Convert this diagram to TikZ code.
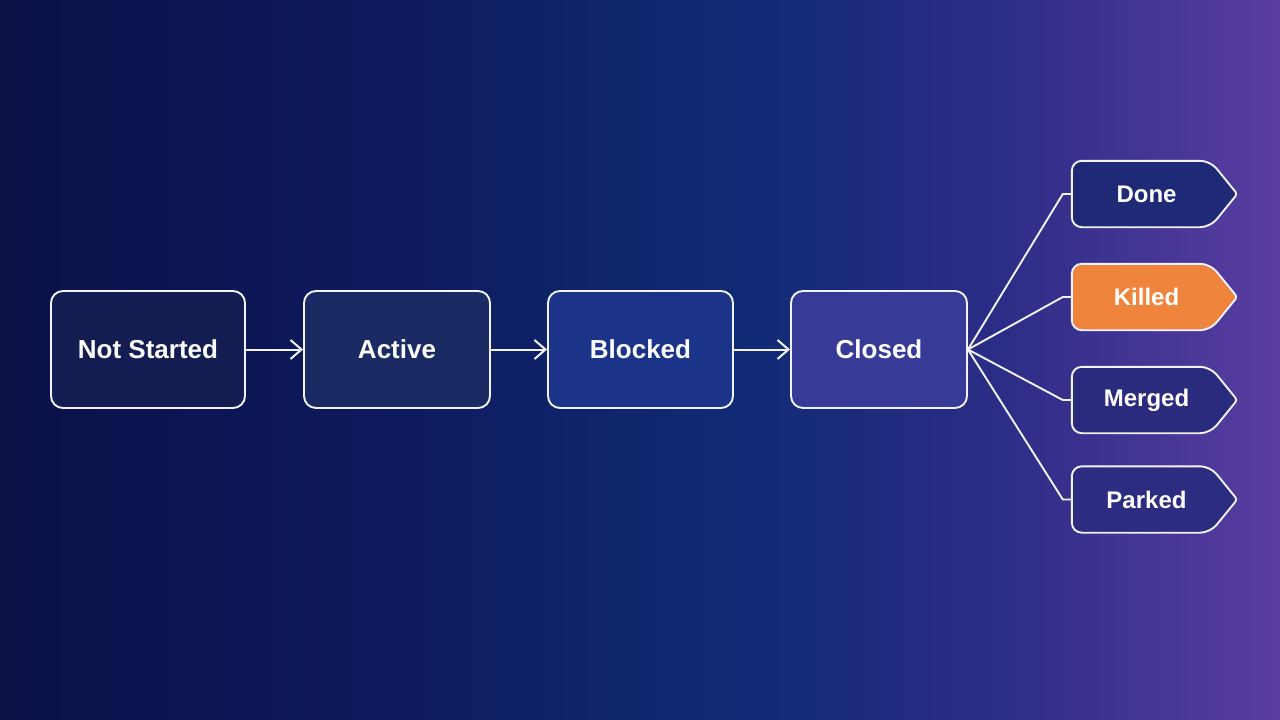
\documentclass[tikz,border=0pt]{standalone}
\usepackage{fontspec}
\setmainfont{Liberation Sans}
\usetikzlibrary{arrows.meta,backgrounds,calc}
\definecolor{bgA}{HTML}{0B1047}
\definecolor{bgB}{HTML}{0E1A5C}
\definecolor{bgC}{HTML}{0F2A74}
\definecolor{bgD}{HTML}{2C2D86}
\definecolor{bgE}{HTML}{5A3DA2}
\definecolor{fNot}{HTML}{131D52}
\definecolor{fAct}{HTML}{1A2A63}
\definecolor{fBlk}{HTML}{1B3388}
\definecolor{fClo}{HTML}{383A98}
\definecolor{fDone}{HTML}{1E2A76}
\definecolor{fKill}{HTML}{EF843C}
\definecolor{fMrg}{HTML}{2B2B7E}
\definecolor{fPrk}{HTML}{2C2C80}
\definecolor{edge}{HTML}{F2F2FA}
\pgfdeclarehorizontalshading{bgshade}{100bp}{color(0bp)=(bgA); color(25bp)=(bgA); color(39.45bp)=(bgB); color(53.7bp)=(bgC); color(64.06bp)=(bgD); color(75bp)=(bgE); color(100bp)=(bgE)}
\tikzset{
  statebox/.style={draw=edge, line width=1.9pt, rounded corners=12pt, minimum height=117pt,
    text=white, font=\bfseries\fontsize{26}{30}\selectfont, inner sep=0pt},
  taglabel/.style={minimum height=66pt, minimum width=149pt, inner sep=0pt,
    text=white, font=\bfseries\fontsize{24}{28}\selectfont},
  tagshape/.style={draw=edge, line width=1.9pt, rounded corners=10pt},
  flow/.style={draw=edge, line width=2pt, -{Straight Barb[length=11pt,width=19pt]}},
  branch/.style={draw=edge, line width=1.9pt}
}
\begin{document}
\begin{tikzpicture}[x=1pt,y=-1pt]
\begin{pgfonlayer}{background}
\shade[shading=bgshade] (0,0) rectangle (1280,720);
\end{pgfonlayer}
\useasboundingbox (0,0) rectangle (1280,720);

\node[statebox, fill=fNot, minimum width=194pt] (ns) at (148,349.5) {Not Started};
\node[statebox, fill=fAct, minimum width=186pt] (act) at (397,349.5) {Active};
\node[statebox, fill=fBlk, minimum width=185pt] (blk) at (640.5,349.5) {Blocked};
\node[statebox, fill=fClo, minimum width=176pt] (clo) at (879,349.5) {Closed};

\node[taglabel] (done) at (1146.5,194) {Done};
\node[taglabel] (kill) at (1146.5,297) {Killed};
\node[taglabel] (mrg) at (1146.5,400) {Merged};
\node[taglabel] (prk) at (1146.5,499.5) {Parked};

\begin{pgfonlayer}{background}
\foreach \t/\c in {done/fDone, kill/fKill, mrg/fMrg, prk/fPrk}{
  \draw[tagshape, fill=\c] (\t.north west) -- ($(\t.north east)+(-11,0)$)
    [rounded corners=3pt] -- ($(\t.east)+(16,0)$) [rounded corners=10pt]
    -- ($(\t.south east)+(-11,0)$) -- (\t.south west) -- cycle;
}
\end{pgfonlayer}

\draw[flow] (ns) -- (act);
\draw[flow] (act) -- (blk);
\draw[flow] (blk) -- (clo);

\foreach \t in {done, kill, mrg, prk}{
  \draw[branch] (clo.east) -- ($(\t.west)+(-9,0)$) -- (\t.west);
}
\end{tikzpicture}
\end{document}
